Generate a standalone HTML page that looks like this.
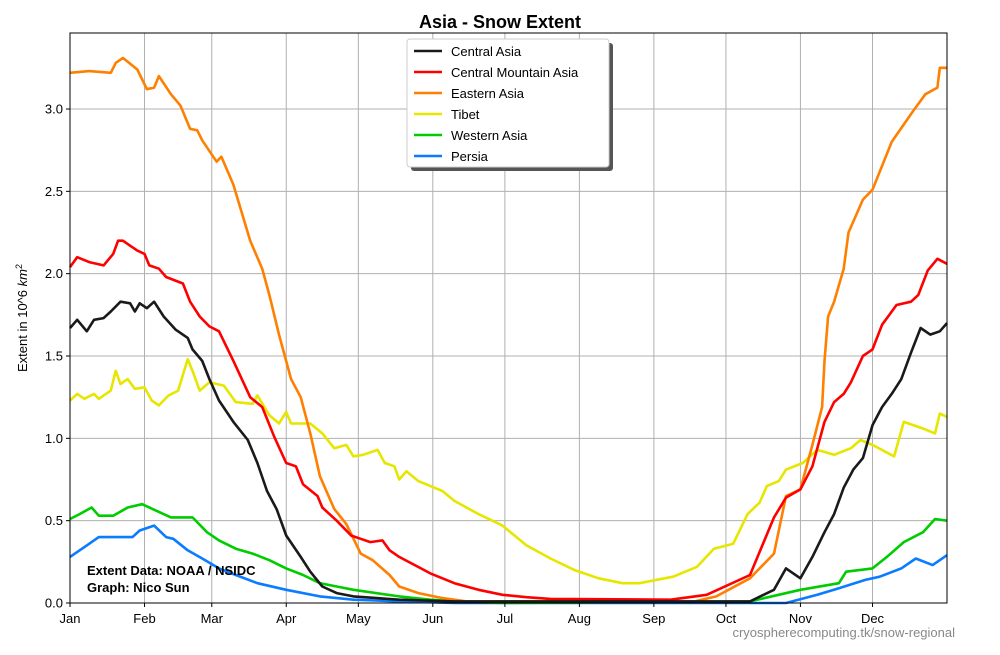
<!DOCTYPE html>
<html><head><meta charset="utf-8"><style>
body{margin:0;background:#fff;font-family:"Liberation Sans",sans-serif}
</style></head><body>
<svg id="chart" width="1000" height="650" xmlns="http://www.w3.org/2000/svg" font-family="Liberation Sans, sans-serif">
<rect width="1000" height="650" fill="#fff"/>
<text x="500" y="28" text-anchor="middle" font-size="18" font-weight="bold">Asia - Snow Extent</text>
<g id="grid"></g>
<g id="series"></g>
<rect x="70" y="33" width="877" height="570" fill="none" stroke="#000" stroke-width="1"/>
<g id="axes"></g>
<text transform="translate(27,318) rotate(-90)" text-anchor="middle" font-size="13">Extent in 10^6 <tspan font-style="italic">km</tspan><tspan font-size="9" dy="-5">2</tspan></text>
<text x="87" y="575" font-size="13" font-weight="bold">Extent Data: NOAA / NSIDC</text>
<text x="87" y="592" font-size="13" font-weight="bold">Graph: Nico Sun</text>
<text x="955" y="637" text-anchor="end" font-size="13" fill="#888">cryospherecomputing.tk/snow-regional</text>
<g id="legend"></g>
</svg>
<script>
const caDays=[0,3,7,10,14,17,21,25,27,29,32,35,39,44,49,51,55,58,62,68,74,78,82,86,90,96,100,105,111,118,137,160,283,293,298,304,309,314,318,322,326,330,334,338,342,346,350,354,358,362,365];
const centralAsia=[1.67,1.72,1.65,1.72,1.73,1.77,1.83,1.82,1.77,1.82,1.79,1.83,1.74,1.66,1.61,1.54,1.47,1.36,1.23,1.10,0.99,0.85,0.68,0.57,0.41,0.28,0.19,0.10,0.06,0.04,0.02,0.01,0.01,0.08,0.21,0.15,0.28,0.43,0.54,0.70,0.81,0.88,1.08,1.19,1.27,1.36,1.52,1.67,1.63,1.65,1.70];
const cmaDays=[0,3,8,14,18,20,22,28,31,33,37,40,47,50,54,58,62,68,75,80,85,90,94,97,103,105,111,117,121,125,130,133,137,150,160,170,180,190,200,250,265,283,293,298,304,309,314,318,322,325,330,334,338,344,350,353,357,361,365];
const centralMountainAsia=[2.04,2.10,2.07,2.05,2.12,2.20,2.20,2.14,2.12,2.05,2.03,1.98,1.94,1.83,1.74,1.68,1.65,1.47,1.25,1.19,1.01,0.85,0.83,0.72,0.65,0.58,0.50,0.41,0.39,0.37,0.38,0.32,0.28,0.18,0.12,0.08,0.05,0.035,0.025,0.02,0.05,0.17,0.52,0.64,0.69,0.83,1.10,1.22,1.27,1.34,1.50,1.54,1.69,1.81,1.83,1.87,2.02,2.09,2.06];
const eaDays=[0,8,17,19,22,28,32,35,37,42,46,50,53,55,61,63,68,75,80,83,87,92,96,100,104,110,115,121,126,133,137,145,155,165,260,269,283,293,298,304,309,313,314,315.5,318,322,324,330,334,342,351,356,361,362,365];
const easternAsia=[3.22,3.23,3.22,3.28,3.31,3.24,3.12,3.13,3.20,3.09,3.02,2.88,2.87,2.81,2.68,2.71,2.54,2.20,2.03,1.87,1.63,1.36,1.25,1.03,0.77,0.57,0.48,0.30,0.26,0.17,0.10,0.06,0.03,0.01,0.01,0.04,0.15,0.30,0.65,0.69,0.96,1.19,1.47,1.74,1.83,2.03,2.25,2.45,2.51,2.80,2.99,3.09,3.13,3.25,3.25];
const tiDays=[0,3,6,10,12,17,19,21,24,27,31,34,37,41,45,49,51,54,58,64,69,76,78,83,87,90,92,100,105,110,115,118,122,128,131,135,137,140,145,150,155,160,170,180,190,200,210,220,230,237,251,261,268,276,282,287,290,295,298,305,311,318,325,329,334,343,347,355,360,362,365];
const tibet=[1.23,1.27,1.24,1.27,1.24,1.29,1.41,1.33,1.36,1.30,1.31,1.23,1.20,1.26,1.29,1.48,1.41,1.29,1.34,1.32,1.22,1.21,1.26,1.14,1.09,1.16,1.09,1.09,1.03,0.94,0.96,0.89,0.90,0.93,0.85,0.83,0.75,0.80,0.74,0.71,0.68,0.62,0.54,0.47,0.35,0.27,0.20,0.15,0.12,0.12,0.16,0.22,0.33,0.36,0.54,0.61,0.71,0.74,0.81,0.85,0.93,0.90,0.94,0.99,0.96,0.89,1.10,1.06,1.03,1.15,1.13];
const waDays=[0,4,9,12,18,24,30,36,42,51,57,62,69,76,83,90,97,104,111,118,137,150,160,180,283,304,320,323,334,340,347,355,360,365];
const westernAsia=[0.51,0.54,0.58,0.53,0.53,0.58,0.60,0.56,0.52,0.52,0.43,0.38,0.33,0.30,0.26,0.21,0.17,0.12,0.10,0.08,0.04,0.02,0.01,0,0.01,0.08,0.12,0.19,0.21,0.28,0.37,0.43,0.51,0.50];
const peDays=[0,7,12,21,26,29,35,40,43,49,55,62,69,78,90,104,118,137,160,298,311,320,331,337,346,352,359,365];
const persia=[0.28,0.35,0.40,0.40,0.40,0.44,0.47,0.40,0.39,0.32,0.27,0.21,0.17,0.12,0.08,0.04,0.02,0.01,0,0,0.05,0.09,0.14,0.16,0.21,0.27,0.23,0.29];
const seriesNames=["Central Asia","Central Mountain Asia","Eastern Asia","Tibet","Western Asia","Persia"];
const seriesColors=["#1a1a1a","#ff0000","#ff8000","#e6e600","#00cc00","#0a7cff"];
const monthLabels=["Jan","Feb","Mar","Apr","May","Jun","Jul","Aug","Sep","Oct","Nov","Dec"];
const monthStarts=[0,31,59,90,120,151,181,212,243,273,304,334];
const yTicks=[0,0.5,1.0,1.5,2.0,2.5,3.0];
const X0=70,X1=947,Y0=603,Y1=33,DMAX=365,VMAX=3.4615;
const xs=d=>X0+d/DMAX*(X1-X0);
const ys=v=>Y0-v/VMAX*(Y0-Y1);
const NS="http://www.w3.org/2000/svg";
function mk(tag,attrs,parent){const e=document.createElementNS(NS,tag);for(const k in attrs)e.setAttribute(k,attrs[k]);parent.appendChild(e);return e;}
const grid=document.getElementById('grid'),axes=document.getElementById('axes');
monthStarts.forEach((d,i)=>{
  const x=xs(d);
  if(i>0){const g=mk('line',{x1:x,x2:x,y1:Y1,y2:Y0,stroke:'#b0b0b0','stroke-width':1},grid);
  
  }
  mk('line',{x1:x,x2:x,y1:Y0,y2:Y0+4,stroke:'#000'},axes);
  const t=mk('text',{x:x,y:Y0+20,'text-anchor':'middle','font-size':13},axes);t.textContent=monthLabels[i];
  
  
});
yTicks.forEach(v=>{
  const y=ys(v);
  if(v>0){const g=mk('line',{x1:X0,x2:X1,y1:y,y2:y,stroke:'#b0b0b0','stroke-width':1},grid);
  
  }
  mk('line',{x1:X0-4,x2:X0,y1:y,y2:y,stroke:'#000'},axes);
  const t=mk('text',{x:X0-7,y:y+4.5,'text-anchor':'end','font-size':13},axes);t.textContent=v.toFixed(1);
  
  
});
const allVals=[centralAsia,centralMountainAsia,easternAsia,tibet,westernAsia,persia];
const allDays=[caDays,cmaDays,eaDays,tiDays,waDays,peDays];
const sg=document.getElementById('series');
[5,4,3,2,1,0].forEach(i=>{
  const dd=allDays[i],vv=allVals[i];
  const pts=dd.map((d,j)=>xs(d).toFixed(1)+','+ys(vv[j]).toFixed(1)).join(' ');
  const p=mk('polyline',{points:pts,fill:'none',stroke:seriesColors[i],'stroke-width':2.6,'stroke-linejoin':'round'},sg);
  
  
});
const lg=document.getElementById('legend');


mk('rect',{x:411,y:43,width:202,height:128,fill:'#555',rx:3},lg);
mk('rect',{x:407,y:39,width:202,height:128,fill:'#fff',stroke:'#ccc',rx:3},lg);
seriesNames.forEach((n,i)=>{
  const y=51+i*21;
  mk('line',{x1:414,x2:442,y1:y,y2:y,stroke:seriesColors[i],'stroke-width':2.6},lg);
  const t=mk('text',{x:451,y:y+5,'font-size':13},lg);t.textContent=n;
  
  
});
</script>
</body></html>
